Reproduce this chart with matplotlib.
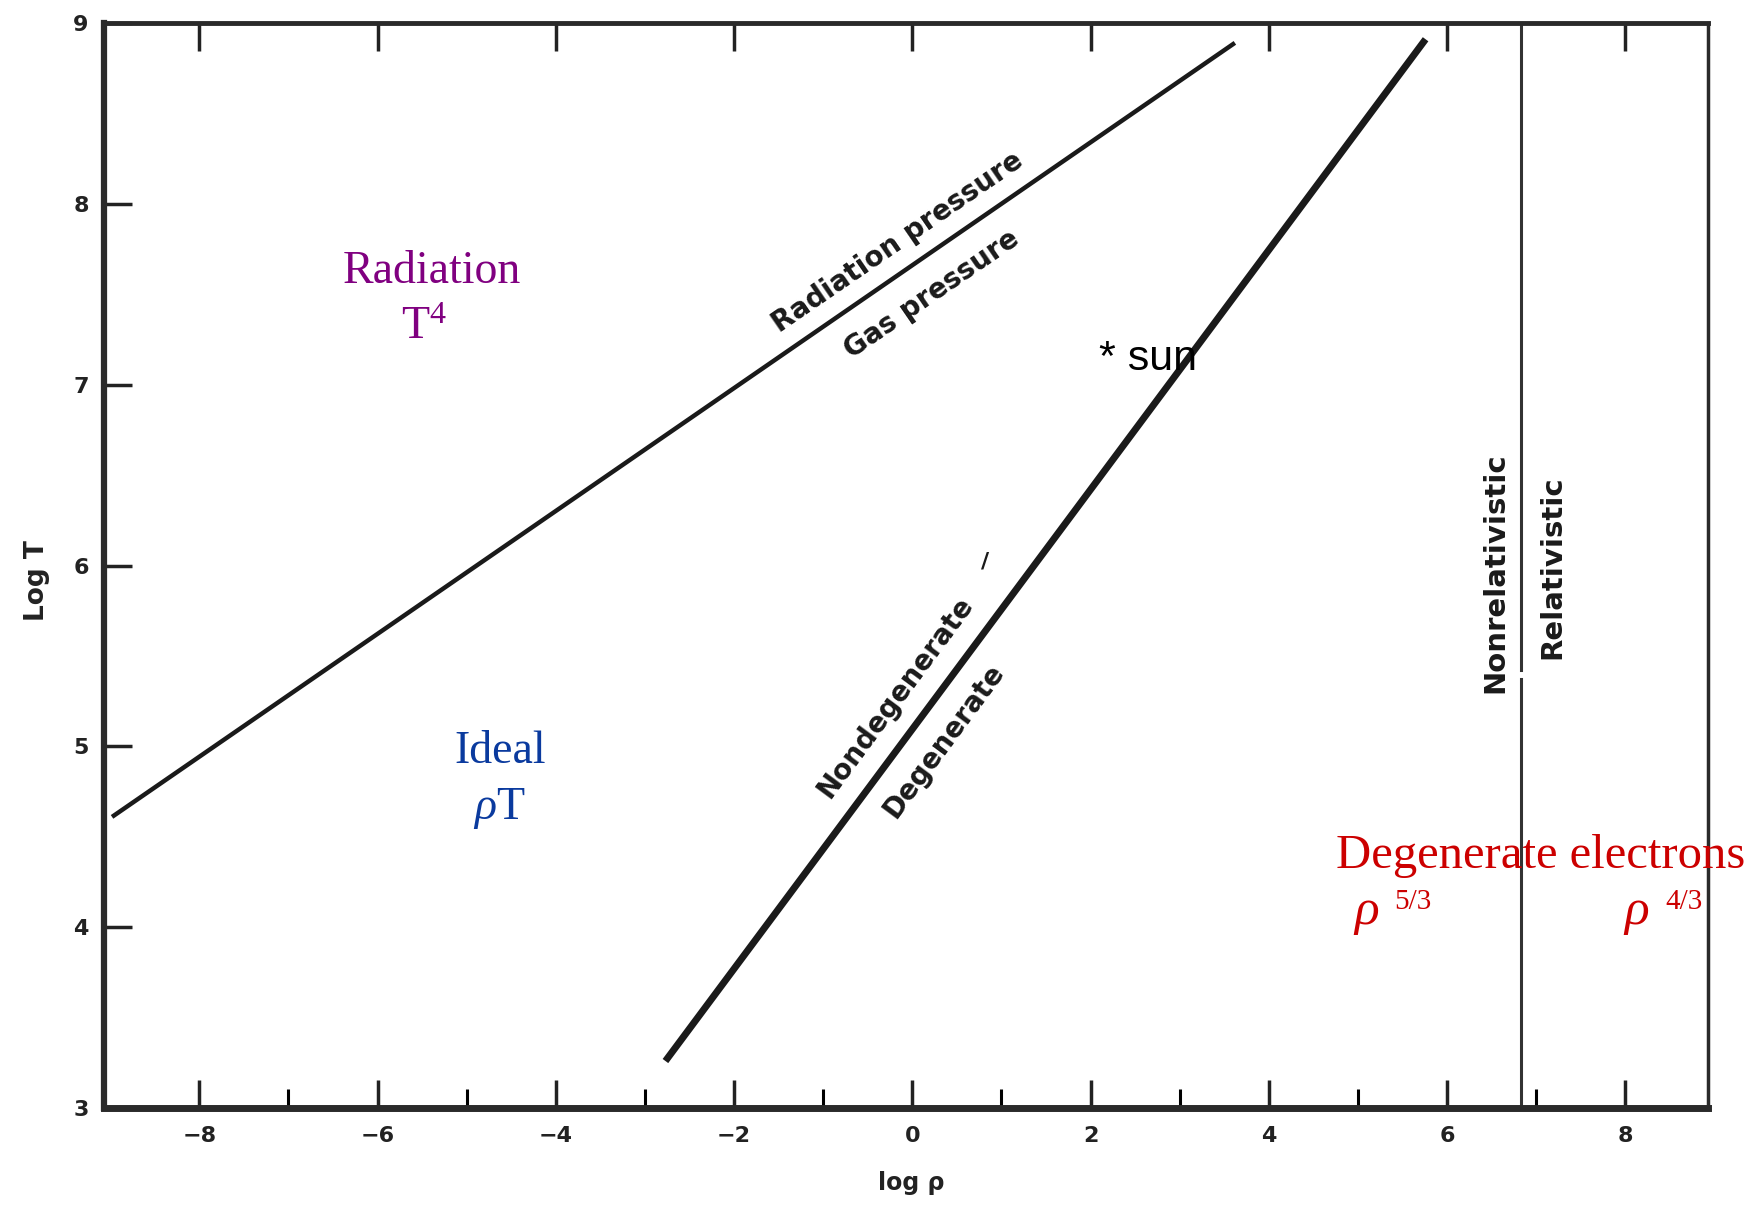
import matplotlib
matplotlib.use("Agg")
import matplotlib.pyplot as plt
import numpy as np

# ---- data ----
rad_gas_x = [-8.98, 3.62]          # radiation / gas pressure boundary (log rho)
rad_gas_y = [4.61, 8.89]           # (log T)
degen_x = [-2.77, 5.76]            # nondegenerate / degenerate boundary
degen_y = [3.26, 8.91]
rel_x = 6.83                       # nonrelativistic / relativistic boundary
x_major = [-8, -6, -4, -2, 0, 2, 4, 6, 8]
x_minor = [-7, -5, -3, -1, 1, 3, 5, 7]
y_major = [3, 4, 5, 6, 7, 8, 9]

plt.rcParams['mathtext.fontset'] = 'custom'
plt.rcParams['mathtext.rm'] = 'Liberation Serif'
plt.rcParams['mathtext.it'] = 'Liberation Serif:italic'

fig = plt.figure(figsize=(17.6, 12.09), dpi=100)
ax = fig.add_axes([0.0591, 0.0835, 0.9114, 0.8975])
ax.set_xlim(-9.07, 8.93)
ax.set_ylim(3, 9)

ink = '#1a1a1a'
ax.plot(rad_gas_x, rad_gas_y, color=ink, lw=3.2, solid_capstyle='butt')
ax.plot(degen_x, degen_y, color=ink, lw=5.0, solid_capstyle='butt')
ax.plot([rel_x, rel_x], [3, 5.37], color='#333333', lw=2.2)
ax.plot([rel_x, rel_x], [5.42, 9], color='#333333', lw=2.2)

for side, w in [('left', 4.5), ('bottom', 5), ('top', 3.5), ('right', 2.5)]:
    ax.spines[side].set_linewidth(w)
    ax.spines[side].set_color('#2a2a2a')

ax.set_xticks(x_major)
ax.set_xticks(x_minor, minor=True)
ax.set_yticks(y_major)
ax.set_xticklabels([f"{v}" if v >= 0 else f"\u2212{abs(v)}" for v in x_major])
ax.set_yticklabels([str(v) for v in y_major])
ax.tick_params(axis='x', which='major', direction='in', length=20, width=2.5,
               top=True, bottom=True, pad=13, labelsize=16, colors='#222222')
ax.tick_params(axis='x', which='minor', direction='in', length=14, width=2.2,
               top=False, bottom=True)
ax.tick_params(axis='y', which='major', direction='in', length=20, width=2.5,
               left=True, right=False, pad=11, labelsize=16, colors='#222222')
for lab in ax.get_xticklabels() + ax.get_yticklabels():
    lab.set_fontweight('bold')

fig.text(0.021, 0.520, 'Log T', rotation=90, ha='center', va='center',
         fontsize=19, fontweight='bold', color='#222222')
fig.text(0.5176, 0.0215, 'log \u03c1', ha='center', va='center',
         fontsize=17, fontweight='bold', color='#222222')

# rotated boundary labels
bk = dict(fontsize=20, fontweight='bold', color='#1a1a1a', ha='center', va='center',
          rotation_mode='anchor')
ax.text(-0.16, 7.79, 'Radiation pressure', rotation=34.5, **bk)
ax.text(0.22, 7.50, 'Gas pressure', rotation=34.5, **bk)
ax.text(-0.19, 5.27, 'Nondegenerate', rotation=53.5, **bk)
ax.text(0.35, 5.03, 'Degenerate', rotation=53.5, **bk)
ax.text(0.82, 6.02, '/', rotation=0, fontsize=16, fontweight='bold', color='#1a1a1a',
        ha='center', va='center')
bk_v = dict(bk, fontsize=21)
ax.text(6.54, 5.96, 'Nonrelativistic', rotation=90, **bk_v)
ax.text(7.18, 5.99, 'Relativistic', rotation=90, **bk_v)

# coloured region labels
purple = '#800080'
blue = '#0a3a9e'
red = '#cc0000'
serif = 'Liberation Serif'
ax.text(-6.39, 7.56, 'Radiation', color=purple, fontsize=33, family=serif,
        ha='left', va='baseline')
ax.text(-5.74, 7.25, 'T$^{4}$', color=purple, fontsize=33, family=serif,
        ha='left', va='baseline')
ax.text(-5.14, 4.91, 'Ideal', color=blue, fontsize=33, family=serif,
        ha='left', va='baseline')
ax.text(-4.93, 4.60, r'$\rho$T', color=blue, fontsize=33, family=serif,
        ha='left', va='baseline')
ax.text(2.09, 7.08, '* sun', color='black', fontsize=31, family='Liberation Sans',
        ha='left', va='baseline')
ax.text(4.76, 4.326, 'Degenerate electrons', color=red, fontsize=35, family=serif,
        ha='left', va='baseline', clip_on=False)
ax.text(4.94, 4.02, r'$\rho$', color=red, fontsize=37, family=serif,
        ha='left', va='baseline')
ax.text(5.41, 4.10, '5/3', color=red, fontsize=21, family=serif,
        ha='left', va='baseline')
ax.text(7.97, 4.02, r'$\rho$', color=red, fontsize=37, family=serif,
        ha='left', va='baseline')
ax.text(8.45, 4.10, '4/3', color=red, fontsize=21, family=serif,
        ha='left', va='baseline')

fig.savefig('out.png', dpi=100, facecolor='white')
